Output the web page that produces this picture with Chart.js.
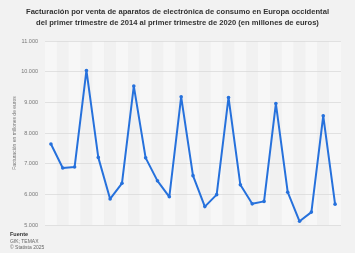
<!DOCTYPE html>
<html>
<head>
<meta charset="utf-8">
<script src="https://cdn.jsdelivr.net/npm/chart.js@4"></script>
<style>
  body { margin: 0; background: #f2f2f2; font-family: "Liberation Sans", Arial, sans-serif; }
  #wrap { position: relative; width: 355px; height: 253px; }
  #title { position: absolute; top: 6px; left: 0; width: 355px; text-align: center; font-size: 7.6px; font-weight: bold; color: #333; line-height: 11px; }
  #source { position: absolute; left: 10px; top: 231px; font-size: 5px; color: #666; line-height: 6.5px; }
  #source b { color: #333; font-size: 5.5px; }
</style>
</head>
<body>
<div id="wrap">
  <canvas id="chart" width="355" height="253"></canvas>
  <div id="title">Facturación por venta de aparatos de electrónica de consumo en Europa occidental<br>del primer trimestre de 2014 al primer trimestre de 2020 (en millones de euros)</div>
  <div id="source"><b>Fuente</b><br>GfK; TEMAX<br>© Statista 2025</div>
</div>
<script>
// Quarterly data, Q1 2014 - Q1 2020
const quarters = ['T1 2014', 'T2 2014', 'T3 2014', 'T4 2014',
  'T1 2015', 'T2 2015', 'T3 2015', 'T4 2015',
  'T1 2016', 'T2 2016', 'T3 2016', 'T4 2016',
  'T1 2017', 'T2 2017', 'T3 2017', 'T4 2017',
  'T1 2018', 'T2 2018', 'T3 2018', 'T4 2018',
  'T1 2019', 'T2 2019', 'T3 2019', 'T4 2019',
  'T1 2020'];
const revenue = [7640, 6860, 6890, 10040, 7205, 5850, 6360, 9530, 7190, 6440, 5920, 9180,
  6610, 5600, 5990, 9160, 6310, 5690, 5770, 8960, 6070, 5120, 5420, 8560, 5680];
const yTicks = [5000, 6000, 7000, 8000, 9000, 10000, 11000];

// Alternating column bands behind the line
const bandPlugin = {
  id: 'bands',
  beforeDraw(chart) {
    const { ctx, chartArea, scales } = chart;
    const x = scales.x;
    const step = x.getPixelForValue(1) - x.getPixelForValue(0);
    ctx.save();
    for (let i = 0; i < quarters.length; i++) {
      const c = x.getPixelForValue(i);
      ctx.fillStyle = i % 2 === 0 ? '#f7f7f7' : '#f1f1f1';
      ctx.fillRect(c - step / 2, chartArea.top, step, chartArea.bottom - chartArea.top);
    }
    ctx.restore();
  }
};

new Chart(document.getElementById('chart'), {
  type: 'line',
  data: {
    labels: quarters,
    datasets: [{
      data: revenue,
      borderColor: '#2671dc',
      backgroundColor: '#2671dc',
      borderWidth: 2,
      borderJoinStyle: 'round',
      pointRadius: 1.8,
      pointBorderWidth: 0,
      tension: 0
    }]
  },
  options: {
    responsive: false,
    animation: false,
    layout: { padding: { top: 41, bottom: 28, right: 14, left: 12 } },
    plugins: { legend: { display: false }, tooltip: { enabled: false } },
    scales: {
      x: {
        offset: true,
        display: false
      },
      y: {
        min: 5000,
        max: 11000,
        afterFit(scale) { scale.width = 33; },
        afterBuildTicks(scale) { scale.ticks = yTicks.map(v => ({ value: v })); },
        border: { display: false },
        grid: { color: '#dadada', lineWidth: 0.8, drawTicks: false },
        ticks: {
          padding: 7,
          color: '#777',
          font: { size: 5.5, family: 'Liberation Sans' },
          callback: v => v.toLocaleString('de-DE')
        },
        title: {
          display: true,
          text: 'Facturación en millones de euros',
          color: '#777',
          padding: 0,
          font: { size: 5, family: 'Liberation Sans' }
        }
      }
    }
  },
  plugins: [bandPlugin]
});
</script>
</body>
</html>
